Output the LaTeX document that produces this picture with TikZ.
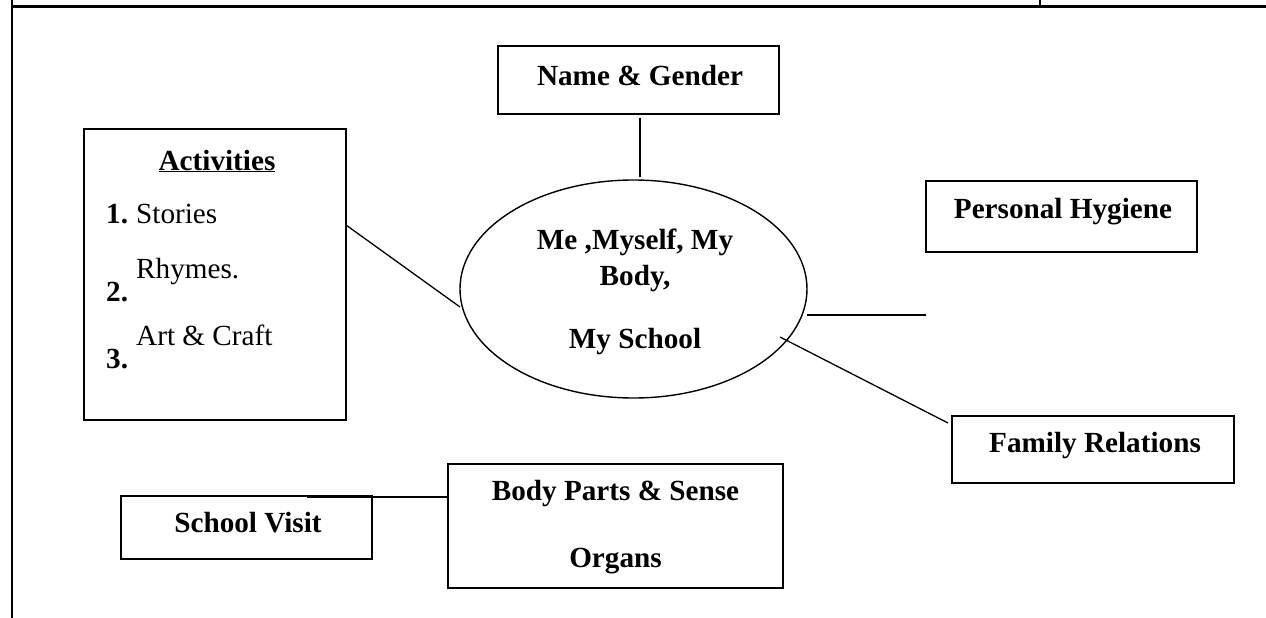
\documentclass[tikz,border=0pt]{standalone}
\usepackage{fontspec}
\setmainfont{Liberation Serif}
\usetikzlibrary{shapes.geometric}
\begin{document}
\begin{tikzpicture}[x=1pt,y=-1pt,
  frame/.style={line width=2.4pt},
  boxnode/.style={draw,line width=1.4pt,inner sep=0pt,rectangle},
  oval/.style={draw,line width=1.4pt,ellipse,inner sep=0pt},
  conn/.style={line width=1.3pt},
  txt/.style={inner sep=0pt,anchor=base,font=\fontsize{29.2}{33}\selectfont\bfseries},
  rtxt/.style={inner sep=0pt,anchor=base west,font=\fontsize{29.2}{33}\selectfont}]
\useasboundingbox (0,0) rectangle (1266,618);
% page frame
\draw[frame] (12,6.5) -- (1266,6.5);
\draw[frame] (12,0) -- (12,618);
\draw[frame] (1040,0) -- (1040,6.5);
% boxes
\node[boxnode,minimum width=281pt,minimum height=68pt] (ng) at (638.5,80) {};
\node[boxnode,minimum width=262pt,minimum height=291pt] (act) at (215,274.5) {};
\node[boxnode,minimum width=271pt,minimum height=71pt] (ph) at (1061.5,216.5) {};
\node[boxnode,minimum width=282pt,minimum height=67pt] (fr) at (1093,449.5) {};
\node[boxnode,minimum width=335pt,minimum height=124pt] (bp) at (615.5,526) {};
\node[boxnode,minimum width=251pt,minimum height=63pt] (sv) at (246.5,527.5) {};
\node[oval,minimum width=347pt,minimum height=218pt] (me) at (633.5,289) {};
% texts
\node[txt] (ngt) at (640,85) {Name \& Gender};
\node[txt] (pht) at (1063,218) {Personal Hygiene};
\node[txt] (frt) at (1095,452) {Family Relations};
\node[txt] (bpt1) at (615.5,500) {Body Parts \& Sense};
\node[txt] (bpt2) at (615.5,567) {Organs};
\node[txt] (svt) at (248,532) {School Visit};
\node[txt] (me1) at (635,249) {Me ,Myself, My};
\node[txt] (me2) at (635,285) {Body,};
\node[txt] (me3) at (635,348) {My School};
\node[txt] (actt) at (217,170) {\underline{Activities}};
\node[txt,anchor=base west] (n1) at (106,223) {1.};
\node[rtxt] (i1) at (136,223) {Stories};
\node[txt,anchor=base west] (n2) at (106,301) {2.};
\node[rtxt] (i2) at (136,278) {Rhymes.};
\node[txt,anchor=base west] (n3) at (106,368) {3.};
\node[rtxt] (i3) at (136,345) {Art \& Craft};
% connector end points
\coordinate (c1a) at (640,118);
\coordinate (c1b) at (640,177);
\coordinate (c2a) at (346,225);
\coordinate (c2b) at (460,307);
\coordinate (c3a) at (807,315);
\coordinate (c3b) at (926,315);
\coordinate (c4a) at (780,337);
\coordinate (c4b) at (948,423);
\coordinate (c5a) at (307,497);
\coordinate (c5b) at (448,497);
\draw[conn] (c1a) -- (c1b);
\draw[conn] (c2a) -- (c2b);
\draw[conn] (c3a) -- (c3b);
\draw[conn] (c4a) -- (c4b);
\draw[conn] (c5a) -- (c5b);
\end{tikzpicture}
\end{document}
